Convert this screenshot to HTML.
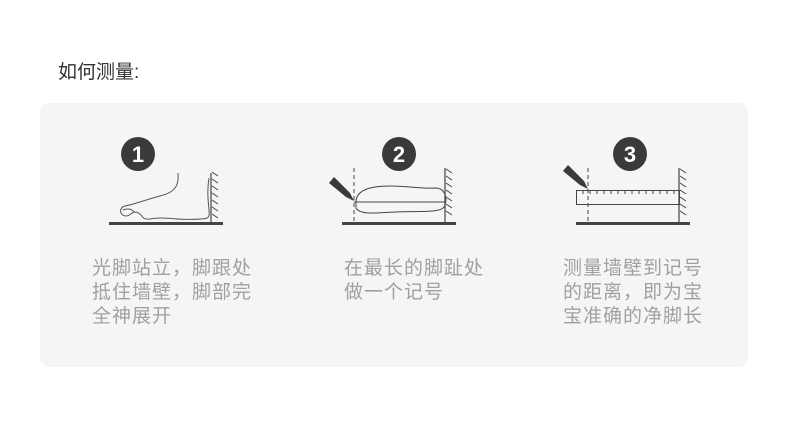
<!DOCTYPE html>
<html><head><meta charset="utf-8"><style>
body{margin:0;width:790px;height:441px;background:#fff;position:relative;overflow:hidden;font-family:"Liberation Sans","Noto Sans CJK SC",sans-serif}
.t{position:absolute;left:58px;top:57px;font-size:19px;color:#333}
.p{position:absolute;left:40px;top:103px;width:708px;height:264px;background:#f5f5f5;border-radius:9px}
.c{position:absolute;font-size:19px;letter-spacing:1px;color:#a0a0a0;line-height:24px}
svg{position:absolute;left:0;top:0}
</style></head><body>
<div class="t">如何测量:</div>
<div class="p"></div>
<svg width="790" height="441" font-family="Liberation Sans,sans-serif">
<defs>
<g id="hatch" stroke="#444" stroke-width="1">
<line x1="0" y1="0" x2="6" y2="4"/><line x1="0" y1="7" x2="6" y2="11"/><line x1="0" y1="14" x2="6" y2="18"/><line x1="0" y1="21" x2="6" y2="25"/><line x1="0" y1="28" x2="6" y2="32"/><line x1="0" y1="35" x2="6" y2="39"/><line x1="0" y1="42" x2="6" y2="46"/>
</g>
</defs>
<g fill="#3a3a3a">
<circle cx="138" cy="154" r="17"/><circle cx="399" cy="154" r="17"/><circle cx="630" cy="154" r="17"/>
</g>
<g fill="#fff" font-size="22" font-weight="bold" text-anchor="middle">
<text x="138" y="162">1</text><text x="399" y="162">2</text><text x="630" y="162">3</text>
</g>
<g fill="#444">
<rect x="109" y="222" width="114" height="3"/><rect x="342" y="222" width="114" height="3"/><rect x="576" y="222" width="114" height="3"/>
</g>
<line x1="211" y1="173" x2="211" y2="222" stroke="#444" stroke-width="1.2"/>
<use href="#hatch" x="212" y="172"/>
<path d="M178 173 C179 185 176 192 160 196 C145 200 135 204 125 206 C118 208 120 216 126 216 C131 216 130 212 136 212 C144 214 140 220 150 219 C165 216 180 221 200 219 C208 219 210 218 209 210 C208 200 207 190 209 178" fill="none" stroke="#555" stroke-width="1"/>
<path d="M123 210 C128 208 132 209 134 212" fill="none" stroke="#555" stroke-width="1"/>
<line x1="445" y1="168" x2="445" y2="222" stroke="#444" stroke-width="1.2"/>
<use href="#hatch" x="446" y="169"/>
<line x1="354" y1="168" x2="354" y2="222" stroke="#444" stroke-width="1" stroke-dasharray="4,3"/>
<path d="M356 202 C356 190 370 186 390 186 C410 186 420 189 435 188 C446 188 448 200 444 207 C440 213 420 211 395 212 C375 213 360 215 356 208 Z" fill="none" stroke="#444" stroke-width="1"/>
<line x1="354" y1="202" x2="445" y2="202" stroke="#444" stroke-width="1"/>
<path d="M329 183 L334 177 L350 193 L354 201 L346 197 Z" fill="#3a3a3a"/>
<line x1="679" y1="168" x2="679" y2="222" stroke="#444" stroke-width="1.2"/>
<use href="#hatch" x="680" y="169"/>
<line x1="588" y1="168" x2="588" y2="222" stroke="#444" stroke-width="1" stroke-dasharray="4,3"/>
<rect x="576.5" y="190.5" width="103" height="14" fill="none" stroke="#444" stroke-width="1"/>
<g stroke="#444" stroke-width="1">
<line x1="583" y1="191" x2="583" y2="194"/><line x1="590" y1="191" x2="590" y2="194"/><line x1="597" y1="191" x2="597" y2="194"/><line x1="604" y1="191" x2="604" y2="194"/><line x1="611" y1="191" x2="611" y2="194"/><line x1="618" y1="191" x2="618" y2="194"/><line x1="625" y1="191" x2="625" y2="194"/><line x1="632" y1="191" x2="632" y2="194"/><line x1="639" y1="191" x2="639" y2="194"/><line x1="646" y1="191" x2="646" y2="194"/><line x1="653" y1="191" x2="653" y2="194"/><line x1="660" y1="191" x2="660" y2="194"/><line x1="667" y1="191" x2="667" y2="194"/><line x1="674" y1="191" x2="674" y2="194"/>
</g>
<path d="M563 171 L568 165 L584 181 L588 189 L580 185 Z" fill="#3a3a3a"/>
</svg>
<div class="c" style="left:92px;top:257px">光脚站立，脚跟处<br>抵住墙壁，脚部完<br>全神展开</div>
<div class="c" style="left:344px;top:257px">在最长的脚趾处<br>做一个记号</div>
<div class="c" style="left:563px;top:257px">测量墙壁到记号<br>的距离，即为宝<br>宝准确的净脚长</div>
</body></html>
